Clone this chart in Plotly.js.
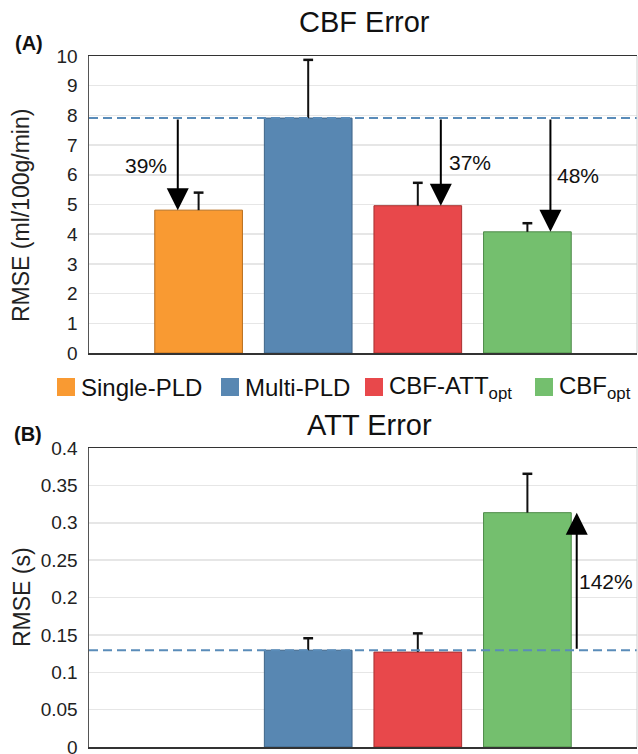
<!DOCTYPE html>
<html><head><meta charset="utf-8">
<script src="https://cdn.plot.ly/plotly-3.0.1.min.js"></script>
<style>html,body{margin:0;padding:0;background:#fff}#chart{width:638px;height:754px}</style>
</head><body><div id="chart"></div>
<script>
// ---- data ----
const categories = ['Single-PLD', 'Multi-PLD', 'CBF-ATT<sub>opt</sub>', 'CBF<sub>opt</sub>'];
const cbfRmse = [4.81, 7.91, 4.96, 4.08];
const cbfErr = [0.59, 1.96, 0.77, 0.29];
const attRmse = [null, 0.1295, 0.127, 0.3135];
const attErr = [null, 0.016, 0.025, 0.052];
const cbfChange = ['39%', null, '37%', '48%'];
const attChange = [null, null, null, '142%'];
const cbfTicks = [0, 1, 2, 3, 4, 5, 6, 7, 8, 9, 10];
const attTicks = [0, 0.05, 0.1, 0.15, 0.2, 0.25, 0.3, 0.35, 0.4];

// ---- styles ----
const barColors = ['#F99A32', '#5887B2', '#E8484B', '#74BF6E'];
const barLines = ['#B86E1E', '#3E6488', '#A8302F', '#4E8A49'];
const dashColor = '#5A8CB9';
const FONT = 'Liberation Sans, Arial, Helvetica, sans-serif';
const W = 638, H = 754, ML = 89, MR = 1, MT = 56, MB = 7;
const PW = W - ML - MR, PH = H - MT - MB;
const px2x = p => (p - ML) / PW;           // pixel -> paper x
const px2y = p => (H - MB - p) / PH;       // pixel -> paper y

const xs = categories.map((c, i) => i);
const traces = [];

function addPanel(vals, errs, xa, ya) {
  categories.forEach((c, i) => {
    if (vals[i] === null) return;
    traces.push({
      type: 'bar', x: [xs[i]], y: [vals[i]], width: 0.8, name: c,
      xaxis: xa, yaxis: ya, showlegend: false, hoverinfo: 'skip',
      marker: {color: barColors[i], line: {color: barLines[i], width: 1}}
    });
  });
  // upper-only error bars: stem + top cap
  const ex = [], ey = [], cx = [], cy = [];
  vals.forEach((v, i) => {
    if (v === null) return;
    ex.push(xs[i], xs[i], null); ey.push(v, v + errs[i], null);
    cx.push(xs[i]); cy.push(v + errs[i]);
  });
  traces.push({type: 'scatter', mode: 'lines', x: ex, y: ey, xaxis: xa, yaxis: ya, showlegend: false,
    hoverinfo: 'skip', line: {color: '#111', width: 2}});
  traces.push({type: 'scatter', mode: 'markers', x: cx, y: cy, xaxis: xa, yaxis: ya, showlegend: false,
    hoverinfo: 'skip', marker: {symbol: 'line-ew', size: 7, line: {color: '#111', width: 2.5}}});
}
addPanel(cbfRmse, cbfErr, 'x', 'y');
addPanel(attRmse, attErr, 'x2', 'y2');

const annotations = [];
const shapes = [];

// reference dashed lines at Multi-PLD level
shapes.push({type: 'line', xref: 'x domain', x0: 0, x1: 1, yref: 'y', y0: cbfRmse[1], y1: cbfRmse[1],
  line: {color: dashColor, width: 2, dash: '9px,5px'}, layer: 'above'});
shapes.push({type: 'line', xref: 'x2 domain', x0: 0, x1: 1, yref: 'y2', y0: attRmse[1], y1: attRmse[1],
  line: {color: dashColor, width: 2, dash: '9px,5px'}, layer: 'above'});
// right frame edges (light)
shapes.push({type: 'line', xref: 'paper', x0: 1, x1: 1, yref: 'y domain', y0: 0, y1: 1, line: {color: '#cfcfcf', width: 1}});
shapes.push({type: 'line', xref: 'paper', x0: 1, x1: 1, yref: 'y2 domain', y0: 0, y1: 1, line: {color: '#cfcfcf', width: 1}});

// change arrows + labels
const cbfArrowDx = [-0.19, 0, 0.21, 0.21];
const cbfLabelPos = [[-0.48, 6.33], null, [0.48, 6.43], [0.46, 5.96]];
cbfChange.forEach((t, i) => {
  if (!t) return;
  const ax = xs[i] + cbfArrowDx[i];
  annotations.push({xref: 'x', yref: 'y', axref: 'x', ayref: 'y', x: ax, y: cbfRmse[i], ax: ax, ay: cbfRmse[1],
    text: '', showarrow: true, arrowhead: 2, arrowsize: 2.2, arrowwidth: 2, arrowcolor: '#000', standoff: 0});
  annotations.push({xref: 'x', yref: 'y', x: xs[i] + cbfLabelPos[i][0], y: cbfLabelPos[i][1], text: t,
    showarrow: false, font: {family: FONT, size: 21, color: '#111'}});
});
const attArrowDx = [0, 0, 0, 0.45];
const attLabelPos = [null, null, null, [0.72, 0.222]];
attChange.forEach((t, i) => {
  if (!t) return;
  const ax = xs[i] + attArrowDx[i];
  annotations.push({xref: 'x2', yref: 'y2', axref: 'x2', ayref: 'y2', x: ax, y: attRmse[i], ax: ax, ay: attRmse[1],
    text: '', showarrow: true, arrowhead: 2, arrowsize: 2.2, arrowwidth: 2, arrowcolor: '#000', standoff: 0});
  annotations.push({xref: 'x2', yref: 'y2', x: xs[i] + attLabelPos[i][0], y: attLabelPos[i][1], text: t,
    showarrow: false, font: {family: FONT, size: 21, color: '#111'}});
});

// titles
annotations.push({xref: 'paper', yref: 'paper', x: px2x(364), y: px2y(22), text: 'CBF Error', showarrow: false,
  xanchor: 'center', yanchor: 'middle', font: {family: FONT, size: 29, color: '#111'}});
annotations.push({xref: 'paper', yref: 'paper', x: px2x(369), y: px2y(425), text: 'ATT Error', showarrow: false,
  xanchor: 'center', yanchor: 'middle', font: {family: FONT, size: 29, color: '#111'}});
annotations.push({xref: 'paper', yref: 'paper', x: px2x(29), y: px2y(43), text: '<b>(A)</b>', showarrow: false,
  xanchor: 'center', yanchor: 'middle', font: {family: FONT, size: 20, color: '#111'}});
annotations.push({xref: 'paper', yref: 'paper', x: px2x(28), y: px2y(434), text: '<b>(B)</b>', showarrow: false,
  xanchor: 'center', yanchor: 'middle', font: {family: FONT, size: 20, color: '#111'}});
// y titles
annotations.push({xref: 'paper', yref: 'paper', x: px2x(21), y: px2y(216), text: 'RMSE (ml/100g/min)', textangle: -90,
  showarrow: false, xanchor: 'center', yanchor: 'middle', font: {family: FONT, size: 23, color: '#222'}});
annotations.push({xref: 'paper', yref: 'paper', x: px2x(22), y: px2y(597), text: 'RMSE (s)', textangle: -90,
  showarrow: false, xanchor: 'center', yanchor: 'middle', font: {family: FONT, size: 23, color: '#222'}});

// legend (custom, larger swatches)
const legendX = [57, 221, 365, 535];
categories.forEach((c, i) => {
  shapes.push({type: 'rect', xref: 'paper', yref: 'paper', x0: px2x(legendX[i]), x1: px2x(legendX[i] + 18),
    y0: px2y(396), y1: px2y(378), fillcolor: barColors[i], line: {width: 0}});
  annotations.push({xref: 'paper', yref: 'paper', x: px2x(legendX[i] + 22), y: px2y(387), text: c, showarrow: false,
    xanchor: 'left', yanchor: 'middle', font: {family: FONT, size: 24, color: '#111'}});
});

const yBase = {
  showgrid: true, gridcolor: '#e6e6e6', gridwidth: 1.5, zeroline: false,
  showline: true, linecolor: '#555', linewidth: 1.5, ticks: '', ticklabelstandoff: 6,
  ticklabeloverflow: 'allow',
  tickfont: {family: FONT, size: 19, color: '#222'}, fixedrange: true
};
const xBase = {
  range: [-1, 4], showticklabels: false, showgrid: false, zeroline: false,
  showline: true, mirror: true, linecolor: '#333', linewidth: 1.5, ticks: '', fixedrange: true
};

const layout = {
  width: W, height: H, margin: {l: ML, r: MR, t: MT, b: MB},
  paper_bgcolor: '#fff', plot_bgcolor: '#fff', barmode: 'overlay', showlegend: false,
  font: {family: FONT},
  xaxis: Object.assign({}, xBase, {anchor: 'y', domain: [0, 1]}),
  yaxis: Object.assign({}, yBase, {anchor: 'x', domain: [px2y(353), 1], range: [0, 10], tickvals: cbfTicks}),
  xaxis2: Object.assign({}, xBase, {anchor: 'y2', domain: [0, 1]}),
  yaxis2: Object.assign({}, yBase, {anchor: 'x2', domain: [0, px2y(448)], range: [0, 0.4], tickvals: attTicks}),
  annotations: annotations, shapes: shapes
};

Plotly.newPlot('chart', traces, layout, {staticPlot: true, displayModeBar: false});
</script>
</body></html>
